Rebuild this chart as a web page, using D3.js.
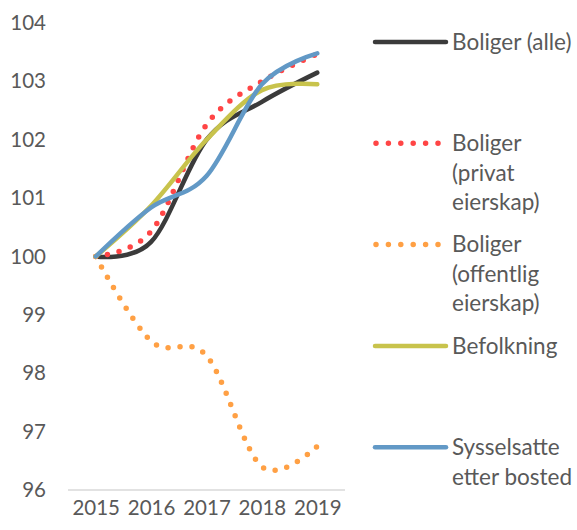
<!DOCTYPE html>
<html>
<head>
<meta charset="utf-8">
<script src="https://cdn.jsdelivr.net/npm/d3@7"></script>
<style>
  html, body { margin: 0; padding: 0; background: #fff; }
  svg { display: block; }
  text { font-family: Lato, "Open Sans", sans-serif; fill: #595959; }
</style>
</head>
<body>
<svg id="chart" width="577" height="530"></svg>
<script>
const years = ["2015", "2016", "2017", "2018", "2019"];
const yTicks = [96, 97, 98, 99, 100, 101, 102, 103, 104];

const boligerAlle = [100, 100.25, 102.0, 102.65, 103.15];
const boligerPrivat = [100, 100.43, 102.26, 103.0, 103.47];
const boligerOffentlig = [100, 98.55, 98.3, 96.4, 96.75];
const befolkning = [100, 100.87, 102.0, 102.85, 102.95];
const sysselsatte = [100, 100.84, 101.38, 102.95, 103.48];

const seriesNames = [
  ["Boliger (alle)"],
  ["Boliger", "(privat", "eierskap)"],
  ["Boliger", "(offentlig", "eierskap)"],
  ["Befolkning"],
  ["Sysselsatte", "etter bosted"]
];
const seriesValues = [boligerAlle, boligerPrivat, boligerOffentlig, befolkning, sysselsatte];
const seriesColors = ["#3b3b3b", "#ff4545", "#ffa044", "#c8c34c", "#6299c6"];
const seriesDotted = [false, true, true, false, false];

const svg = d3.select("#chart");

const x = d3.scalePoint().domain(years).range([68, 345]).padding(0.5);
const y = d3.scaleLinear().domain([96, 104]).range([490, 23]);

// baseline
svg.append("line")
  .attr("x1", 68).attr("x2", 345)
  .attr("y1", y(96)).attr("y2", y(96))
  .attr("stroke", "#d9d9d9").attr("stroke-width", 1.5);

// y tick labels
const yAxis = d3.axisLeft(y).tickValues(yTicks).tickSize(0).tickPadding(0).tickFormat(d3.format("d"));
const gy = svg.append("g").attr("transform", "translate(46,0)").call(yAxis);
gy.select(".domain").remove();
gy.selectAll("text").attr("font-size", 20.5).attr("fill", "#595959")
  .style("font-family", "Lato, 'Open Sans', sans-serif");

// x tick labels
const xAxis = d3.axisBottom(x).tickSize(0).tickPadding(0);
const gx = svg.append("g").attr("transform", "translate(0,500)").call(xAxis);
gx.select(".domain").remove();
gx.selectAll("text").attr("font-size", 20.5).attr("fill", "#595959")
  .style("font-family", "Lato, 'Open Sans', sans-serif");

const line = d3.line()
  .x((d, i) => x(years[i]))
  .y(d => y(d))
  .curve(d3.curveCatmullRom.alpha(0));

seriesValues.forEach((vals, k) => {
  const p = svg.append("path")
    .datum(vals)
    .attr("d", line)
    .attr("fill", "none")
    .attr("stroke", seriesColors[k])
    .attr("stroke-linecap", "round")
    .attr("stroke-linejoin", "round");
  if (seriesDotted[k]) {
    p.attr("stroke-width", 5.5).attr("stroke-dasharray", "0 12");
  } else {
    p.attr("stroke-width", 4.5);
  }
});

// legend
const legendX1 = 375, legendX2 = 446, legendTextX = 452;
const legendTop = 42, legendStep = 101.3, lineH = 29.5;
seriesNames.forEach((lines, k) => {
  const cy = legendTop + k * legendStep;
  const l = svg.append("line")
    .attr("x1", legendX1).attr("x2", legendX2)
    .attr("y1", cy).attr("y2", cy)
    .attr("stroke", seriesColors[k])
    .attr("stroke-linecap", "round");
  if (seriesDotted[k]) {
    l.attr("x1", legendX1 + 1).attr("stroke-width", 5.5).attr("stroke-dasharray", "0 12.4");
  } else {
    l.attr("stroke-width", 4.5);
  }
  const t = svg.append("text")
    .attr("x", legendTextX)
    .attr("y", cy)
    .attr("font-size", 22.5);
  lines.forEach((s, j) => {
    t.append("tspan")
      .attr("x", legendTextX)
      .attr("y", cy + j * lineH)
      .attr("dy", "0.35em")
      .text(s);
  });
});
</script>
</body>
</html>
